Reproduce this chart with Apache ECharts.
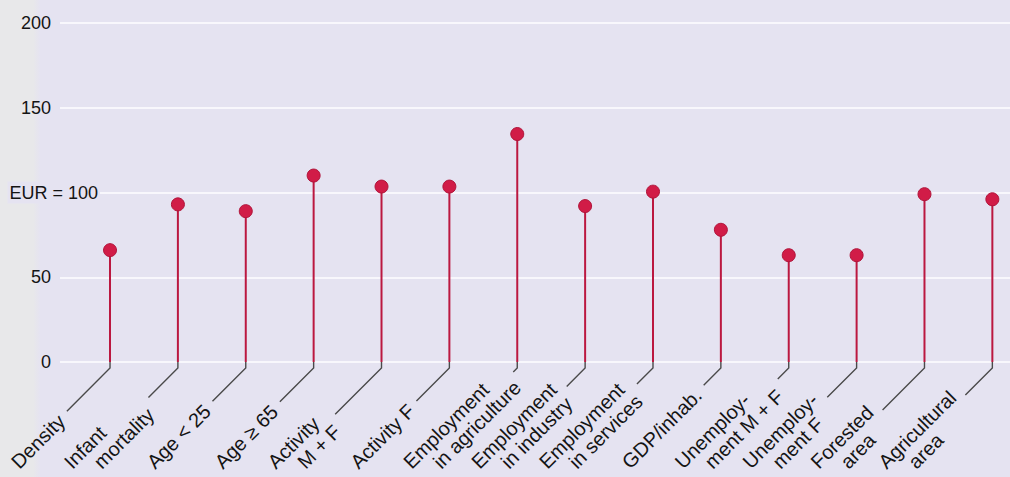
<!DOCTYPE html>
<html><head><meta charset="utf-8">
<script src="https://cdn.jsdelivr.net/npm/echarts@6/dist/echarts.min.js"></script>
<style>html,body{margin:0;padding:0;background:#e5e3f1;} #c{width:1010px;height:477px;}</style>
</head><body><div id="c"></div>
<script>
// ---- data ----
const categories = [
  'Density',
  'Infant\nmortality',
  'Age < 25',
  'Age ≥ 65',
  'Activity\nM + F',
  'Activity F',
  'Employment\nin agriculture',
  'Employment\nin industry',
  'Employment\nin services',
  'GDP/inhab.',
  'Unemploy-\nment M + F',
  'Unemploy-\nment F',
  'Forested\narea',
  'Agricultural\narea'
];
const values = [66, 93, 89, 110, 103.5, 103.5, 134.5, 92, 100.5, 78, 63, 63, 99, 96];
const yTickValues = [0, 50, 100, 150, 200];
const yTickLabels = ['0', '50', 'EUR = 100', '150', '200'];

// ---- styling / layout ----
const BG = '#e5e3f1';
const FONT_FAMILY = '"Liberation Sans", Arial, Helvetica, sans-serif';
const CAT_FONT = '20px ' + FONT_FAMILY;
const KINK = 6;          // vertical tick below the zero line
const DROP = 97;         // vertical distance from kink to label start (middle line)
const BIAS = 1;          // perpendicular offset of the label block from leader line
const LINE_GAP = 21;     // perpendicular distance between two label lines
const GAP = 6;           // gap between leader end and label end

const mctx = document.createElement('canvas').getContext('2d');
mctx.font = CAT_FONT;
function measure(s) { return mctx.measureText(s).width; }

const chart = echarts.init(document.getElementById('c'), null, { renderer: 'svg' });

const option = {
  animation: false,
  backgroundColor: {
    type: 'linear', x: 0, y: 0, x2: 1, y2: 0,
    colorStops: [
      { offset: 0, color: '#e8e8ea' },
      { offset: 0.033, color: '#e8e8ea' },
      { offset: 0.04, color: BG },
      { offset: 1, color: BG }
    ]
  },
  grid: { left: 60, right: 0, top: 23, bottom: 115, containLabel: false },
  xAxis: {
    type: 'value', min: -0.737, max: 13.26, show: false
  },
  yAxis: {
    type: 'value', min: 0, max: 200, interval: 50,
    axisLine: { show: false }, axisTick: { show: false },
    splitLine: { lineStyle: { color: '#f8f7fc', width: 2 } },
    axisLabel: {
      margin: -40,
      formatter: function (v) {
        const k = yTickValues.indexOf(v);
        const s = k >= 0 ? yTickLabels[k] : String(v);
        return s.indexOf('EUR') === 0 ? '{e|' + s + '}' : '{n|' + s + '}';
      },
      rich: {
        n: { fontSize: 18, fontFamily: FONT_FAMILY, color: '#141414', padding: [0, 49, 0, 0] },
        e: { fontSize: 18, fontFamily: FONT_FAMILY, color: '#141414', backgroundColor: BG, padding: [2, 2, 2, 2] }
      }
    }
  },
  series: [
    {
      type: 'custom',
      name: 'labels',
      clip: false,
      silent: true,
      data: categories.map((c, i) => [i, 0]),
      encode: { x: 0, y: 1 },
      renderItem: function (params, api) {
        const i = api.value(0);
        const p = api.coord([i, 0]);
        const kx = p[0], ky = p[1] + KINK;
        const ys = ky + DROP;
        const lines = categories[i].split('\n');
        const n = lines.length;
        const children = [];
        let tmin = Infinity;
        lines.forEach(function (s, j) {
          const o = BIAS + (n === 1 ? 0 : (j === 0 ? -LINE_GAP / 2 : LINE_GAP / 2));
          const L = measure(s);
          const xs = kx - DROP + o * Math.SQRT2;
          children.push({
            type: 'text', x: xs, y: ys, rotation: Math.PI / 4,
            style: { text: s, font: CAT_FONT, fill: '#141414', align: 'left', verticalAlign: 'middle' }
          });
          const t = DROP - o / Math.SQRT2 - L / Math.SQRT2;
          tmin = Math.min(tmin, t);
        });
        const tl = Math.max(tmin - GAP, 4);
        children.unshift({
          type: 'polyline',
          shape: { points: [[kx, p[1]], [kx, ky], [kx - tl, ky + tl]] },
          style: { stroke: '#4a4a4a', lineWidth: 1.4, fill: null }
        });
        return { type: 'group', children: children };
      },
      z: 3
    },
    {
      type: 'custom',
      name: 'stems',
      clip: false,
      silent: true,
      data: values.map((v, i) => [i, v]),
      encode: { x: 0, y: 1 },
      renderItem: function (params, api) {
        const a = api.coord([api.value(0), 0]);
        const b = api.coord([api.value(0), api.value(1)]);
        return {
          type: 'line',
          shape: { x1: a[0], y1: a[1], x2: b[0], y2: b[1] },
          style: { stroke: '#bb1840', lineWidth: 2 }
        };
      },
      z: 4
    },
    {
      type: 'scatter',
      name: 'values',
      data: values.map((v, i) => [i, v]),
      symbolSize: 13,
      itemStyle: { color: '#d11c47', borderColor: '#b0143a', borderWidth: 1, opacity: 1 },
      z: 5
    }
  ]
};
chart.setOption(option);
</script>
</body></html>
